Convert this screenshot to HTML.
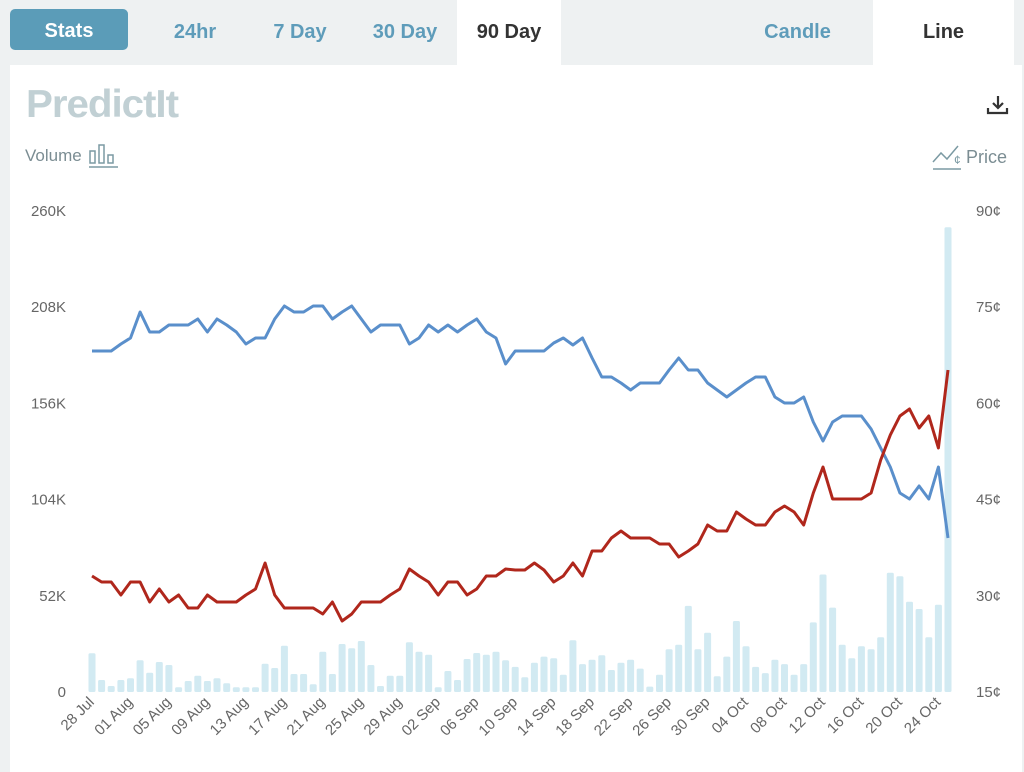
<!DOCTYPE html>
<html><head><meta charset="utf-8"><style>
body{margin:0;width:1024px;height:772px;background:#eef1f2;font-family:"Liberation Sans",sans-serif;overflow:hidden;position:relative}
.tab{position:absolute;top:0;height:65px;line-height:65px;font-size:20px;font-weight:bold;color:#5e9cba;text-align:center}
#stats{position:absolute;left:10px;top:9px;width:118px;height:41px;background:#5b9cb8;border-radius:5px;color:#fff;font-weight:bold;font-size:20px;line-height:44px;text-align:center}
#panel{position:absolute;left:10px;top:65px;width:1012px;height:707px;background:#fff}
</style></head><body>
<div id="stats">Stats</div>
<div class="tab" style="left:155px;width:80px">24hr</div>
<div class="tab" style="left:260px;width:80px">7 Day</div>
<div class="tab" style="left:360px;width:90px">30 Day</div>
<div class="tab" style="left:457px;width:104px;background:#fff;color:#333">90 Day</div>
<div class="tab" style="left:750px;width:95px">Candle</div>
<div class="tab" style="left:873px;width:141px;background:#fff;color:#333">Line</div>
<div id="panel"></div>
<svg id="s" width="1024" height="772" style="position:absolute;left:0;top:0" font-family="Liberation Sans, sans-serif">
<text x="26" y="117" font-size="39" font-weight="bold" fill="#c1d0d4" letter-spacing="-1" textLength="152" lengthAdjust="spacingAndGlyphs">PredictIt</text>
<text x="25" y="161" font-size="17" fill="#7b8d93">Volume</text>
<g fill="none" stroke="#7b9aa3" stroke-width="1.5"><rect x="90" y="151" width="5" height="12"/><rect x="99" y="145" width="5" height="18"/><rect x="108" y="155" width="5" height="8"/><line x1="89" y1="167" x2="118" y2="167"/>
<polyline points="933,162 941,153 947,159 958,146"/><line x1="933" y1="169" x2="961" y2="169"/></g>
<text x="954" y="164" font-size="12" fill="#7b9aa3">¢</text>
<text x="966" y="163" font-size="18" fill="#7b8d93">Price</text>
<g stroke="#333" stroke-width="2.2" fill="none"><line x1="998" y1="96" x2="998" y2="108"/><polyline points="993,103 998,108 1003,103"/><polyline points="988,108 988,113 1007,113 1007,108"/></g>
<g id="g"></g>
</svg>
<script>
var blue=[351,351,351,344,338,312,332,332,325,325,325,319,332,319,325,332,344,338,338,319,306,312,312,306,306,319,312,306,319,332,325,325,325,344,338,325,332,325,332,325,319,332,338,364,
351,351,351,351,343,338,345,338,358,377,377,383,390,383,383,383,370,358,370,370,383,390,397,390,383,377,377,397,403,403,397,422,441,422,416,416,416,429,448,467,493,499,486,499,467,538];
var red=[576,582,582,595,582,582,602,589,602,595,608,608,595,602,602,602,595,589,563,595,608,608,608,608,614,602,621,614,602,602,602,595,589,569,576,582,595,582,582,595,589,576,576,569,
570,570,563,570,582,576,563,576,551,551,538,531,538,538,538,544,544,557,551,544,525,531,531,512,519,525,525,512,506,512,525,493,467,499,499,499,499,493,460,435,416,409,428,416,448,370];
var b1=[1090,1170,1188,1170,1165,1111,1148,1116,1125,1192,1173,1157,1173,1165,1180,1192,1192,1192,1121,1134,1067,1152,1152,1183,1085,1152,1062,1075,1053,1125,1188,1157,1157,1057,1085,1094,1192,1143,1170,1107,1089,1094,1085,1111];
var b2=[1470,1500,1458,1440,1445,1493,1393,1462,1449,1436,1479,1458,1449,1475,1527,1493,1419,1406,1293,1419,1371,1497,1440,1337,1410,1470,1488,1449,1462,1493,1462,1341,1202,1298,1406,1445,1410,1419,1384,1197,1207,1281,1302,1384,1290,195];
var bars=b1.map(function(v){return 290+v/3}).concat(b2.map(function(v){return 160+v/2.9}));
var X=function(i){return 92+i*(856/89)};
var h='';
for(var i=0;i<bars.length;i++){h+='<rect x="'+(X(i)-3.5).toFixed(1)+'" y="'+bars[i].toFixed(1)+'" width="7" height="'+(692-bars[i]).toFixed(1)+'" rx="1.5" fill="#d2eaf2"/>';}
function pl(a,c){return '<polyline fill="none" stroke="'+c+'" stroke-width="3" stroke-linejoin="round" points="'+a.map(function(v,i){return X(i).toFixed(1)+','+v}).join(' ')+'"/>';}
h+=pl(blue,'#5a8fcb')+pl(red,'#b0271c');
var L=['260K','208K','156K','104K','52K','0'],R=['90¢','75¢','60¢','45¢','30¢','15¢'];
for(var k=0;k<6;k++){var y=216+k*96.2;h+='<text x="66" y="'+y+'" font-size="15" fill="#666" text-anchor="end">'+L[k]+'</text><text x="976" y="'+y+'" font-size="15" fill="#666">'+R[k]+'</text>';}
var D=['28 Jul','01 Aug','05 Aug','09 Aug','13 Aug','17 Aug','21 Aug','25 Aug','29 Aug','02 Sep','06 Sep','10 Sep','14 Sep','18 Sep','22 Sep','26 Sep','30 Sep','04 Oct','08 Oct','12 Oct','16 Oct','20 Oct','24 Oct'];
for(var k=0;k<D.length;k++){var x=X(k*4)+3;h+='<text transform="translate('+x.toFixed(1)+',703) rotate(-45)" font-size="15" fill="#666" text-anchor="end">'+D[k]+'</text>';}
document.getElementById('g').innerHTML=h;
</script>
</body></html>
